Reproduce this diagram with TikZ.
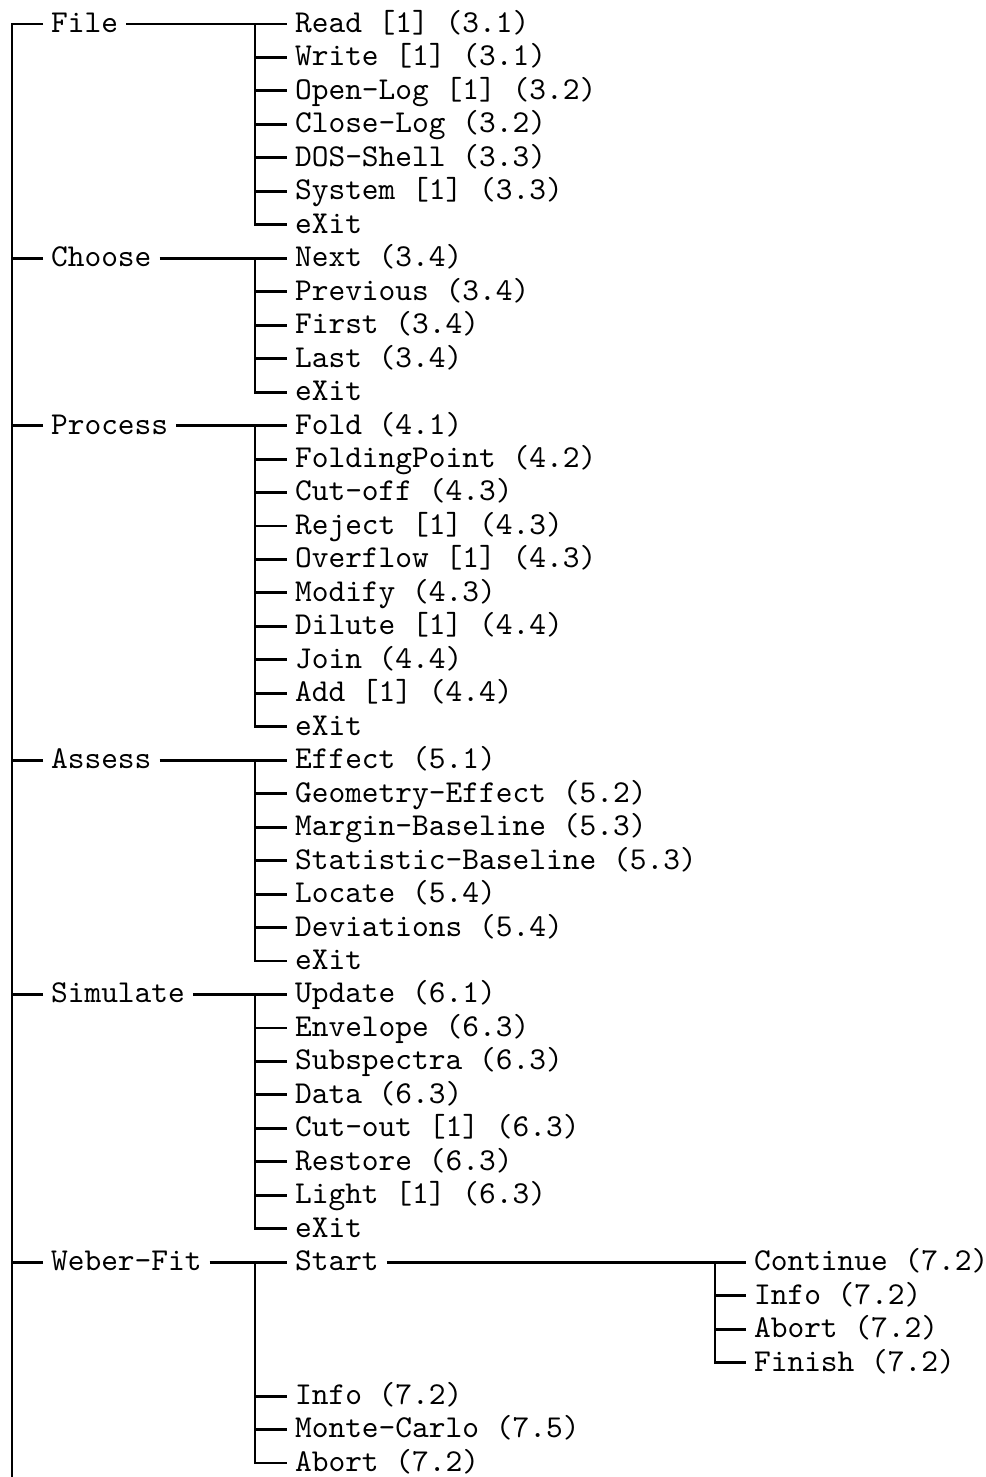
\documentclass[tikz,border=0pt]{standalone}
\begin{document}
\begin{tikzpicture}[x=0.5pt,y=-16.7325pt,line width=1.45pt,
  lbl/.style={anchor=west,scale=1.594,inner xsep=1.8pt,inner ysep=0pt,text height=7.5pt,text depth=2.2pt,
    font=\fontsize{10pt}{12pt}\selectfont\ttfamily}]
\useasboundingbox (0,0) rectangle (986,44.136);
\begin{scope}[shift={(0,0.7172)}]
\coordinate (v0) at (12,0);
\coordinate (v1) at (255,0);
\coordinate (v3) at (715,0);
\coordinate (mainbot) at (12,43.6);
% top level
\node[lbl] (file) at (43,0) {File};
\node[lbl] (choose) at (43,7) {Choose};
\node[lbl] (process) at (43,12) {Process};
\node[lbl] (assess) at (43,22) {Assess};
\node[lbl] (simulate) at (43,29) {Simulate};
\node[lbl] (weber) at (43,37) {Weber-Fit};
\draw (file.west) -| (mainbot);
\foreach \n in {choose,process,assess,simulate,weber}
  \draw (\n.west) -- (\n.west -| v0);
% File
\node[lbl] (f1) at (287,0) {Read [1] (3.1)};
\node[lbl] (f2) at (287,1) {Write [1] (3.1)};
\node[lbl] (f3) at (287,2) {Open-Log [1] (3.2)};
\node[lbl] (f4) at (287,3) {Close-Log (3.2)};
\node[lbl] (f5) at (287,4) {DOS-Shell (3.3)};
\node[lbl] (f6) at (287,5) {System [1] (3.3)};
\node[lbl] (f7) at (287,6) {eXit};
\draw (file.east) -- (f1.west);
\draw (f1.west -| v1) |- (f7.west);
\foreach \n in {f2,f3,f4,f5,f6} \draw (\n.west -| v1) -- (\n.west);
% Choose
\node[lbl] (c1) at (287,7) {Next (3.4)};
\node[lbl] (c2) at (287,8) {Previous (3.4)};
\node[lbl] (c3) at (287,9) {First (3.4)};
\node[lbl] (c4) at (287,10) {Last (3.4)};
\node[lbl] (c5) at (287,11) {eXit};
\draw (choose.east) -- (c1.west);
\draw (c1.west -| v1) |- (c5.west);
\foreach \n in {c2,c3,c4} \draw (\n.west -| v1) -- (\n.west);
% Process
\node[lbl] (p1) at (287,12) {Fold (4.1)};
\node[lbl] (p2) at (287,13) {FoldingPoint (4.2)};
\node[lbl] (p3) at (287,14) {Cut-off (4.3)};
\node[lbl] (p4) at (287,15) {Reject [1] (4.3)};
\node[lbl] (p5) at (287,16) {Overflow [1] (4.3)};
\node[lbl] (p6) at (287,17) {Modify (4.3)};
\node[lbl] (p7) at (287,18) {Dilute [1] (4.4)};
\node[lbl] (p8) at (287,19) {Join (4.4)};
\node[lbl] (p9) at (287,20) {Add [1] (4.4)};
\node[lbl] (p10) at (287,21) {eXit};
\draw (process.east) -- (p1.west);
\draw (p1.west -| v1) |- (p10.west);
\foreach \n in {p2,p3,p4,p5,p6,p7,p8,p9} \draw (\n.west -| v1) -- (\n.west);
% Assess
\node[lbl] (a1) at (287,22) {Effect (5.1)};
\node[lbl] (a2) at (287,23) {Geometry-Effect (5.2)};
\node[lbl] (a3) at (287,24) {Margin-Baseline (5.3)};
\node[lbl] (a4) at (287,25) {Statistic-Baseline (5.3)};
\node[lbl] (a5) at (287,26) {Locate (5.4)};
\node[lbl] (a6) at (287,27) {Deviations (5.4)};
\node[lbl] (a7) at (287,28) {eXit};
\draw (assess.east) -- (a1.west);
\draw (a1.west -| v1) |- (a7.west);
\foreach \n in {a2,a3,a4,a5,a6} \draw (\n.west -| v1) -- (\n.west);
% Simulate
\node[lbl] (s1) at (287,29) {Update (6.1)};
\node[lbl] (s2) at (287,30) {Envelope (6.3)};
\node[lbl] (s3) at (287,31) {Subspectra (6.3)};
\node[lbl] (s4) at (287,32) {Data (6.3)};
\node[lbl] (s5) at (287,33) {Cut-out [1] (6.3)};
\node[lbl] (s6) at (287,34) {Restore (6.3)};
\node[lbl] (s7) at (287,35) {Light [1] (6.3)};
\node[lbl] (s8) at (287,36) {eXit};
\draw (simulate.east) -- (s1.west);
\draw (s1.west -| v1) |- (s8.west);
\foreach \n in {s2,s3,s4,s5,s6,s7} \draw (\n.west -| v1) -- (\n.west);
% Weber-Fit
\node[lbl] (w1) at (287,37) {Start};
\node[lbl] (w2) at (287,41) {Info (7.2)};
\node[lbl] (w3) at (287,42) {Monte-Carlo (7.5)};
\node[lbl] (w4) at (287,43) {Abort (7.2)};
\draw (weber.east) -- (w1.west);
\draw (w1.west -| v1) |- (w4.west);
\foreach \n in {w2,w3} \draw (\n.west -| v1) -- (\n.west);
% Start
\node[lbl] (t1) at (746,37) {Continue (7.2)};
\node[lbl] (t2) at (746,38) {Info (7.2)};
\node[lbl] (t3) at (746,39) {Abort (7.2)};
\node[lbl] (t4) at (746,40) {Finish (7.2)};
\draw (w1.east) -- (t1.west);
\draw (t1.west -| v3) |- (t4.west);
\foreach \n in {t2,t3} \draw (\n.west -| v3) -- (\n.west);
\end{scope}
\end{tikzpicture}
\end{document}
